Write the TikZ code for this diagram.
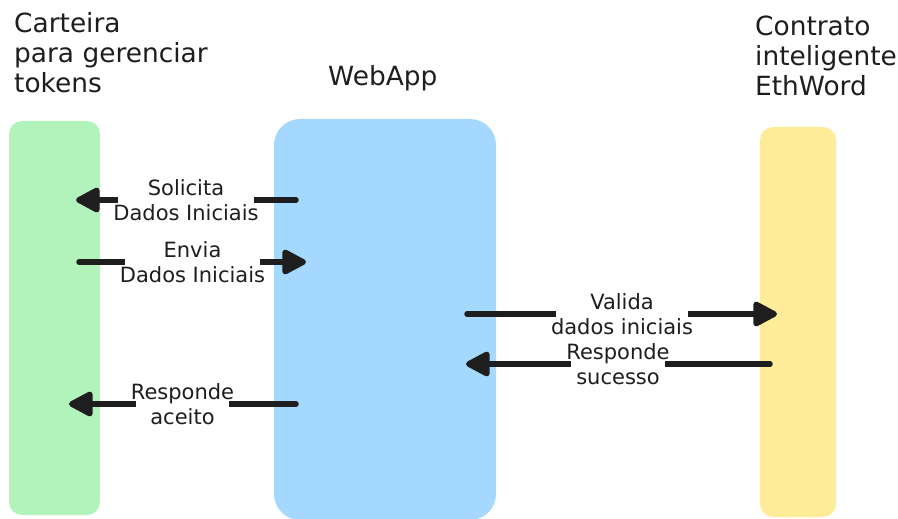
\documentclass[tikz,border=0pt]{standalone}
\usepackage{fontspec}
\setmainfont{DejaVu Sans}
\usetikzlibrary{arrows.meta}
\definecolor{ink}{HTML}{1E1E1E}
\definecolor{walletfill}{HTML}{B2F2BB}
\definecolor{appfill}{HTML}{A5D8FF}
\definecolor{contractfill}{HTML}{FFEC99}
\tikzset{
  lane/.style={draw=none, inner sep=0pt, outer sep=0pt},
  title/.style={text=ink, inner sep=0pt, align=left,
    font=\fontsize{26.4}{30}\selectfont},
  msg/.style={draw=ink, line width=5.5pt, line cap=round,
    -{Triangle[length=27pt,width=27pt,round]}},
  msglabel/.style={fill=white, text=ink, align=center,
    inner xsep=-5pt, inner ysep=1pt,
    font=\fontsize{21}{25}\selectfont}
}
\begin{document}
\begin{tikzpicture}[x=1pt,y=-1pt]
  \useasboundingbox (0,0) rectangle (898,519);

  % swimlanes
  \node[lane, fill=walletfill, rounded corners=13pt,
        minimum width=91pt, minimum height=394pt] (wallet) at (54.5,318) {};
  \node[lane, fill=appfill, rounded corners=26pt,
        minimum width=222pt, minimum height=401pt] (webapp) at (385,319.5) {};
  \node[lane, fill=contractfill, rounded corners=13pt,
        minimum width=76pt, minimum height=390pt] (contract) at (798,322) {};

  % lane titles
  \node[title, anchor=north west] (walletT) at (14,12.3)
    {Carteira\\para gerenciar\\tokens};
  \node[title, anchor=base west] (webappT) at (328,85) {WebApp};
  \node[title, anchor=north west] (contractT) at (755,16.2)
    {Contrato\\inteligente\\EthWord};

  % message end points
  \coordinate (m1a) at (296,200);  \coordinate (m1b) at (76,200);
  \coordinate (m2a) at (79,262);   \coordinate (m2b) at (306,262);
  \coordinate (m3a) at (467,314);  \coordinate (m3b) at (777,314);
  \coordinate (m4a) at (770,364);  \coordinate (m4b) at (466,364);
  \coordinate (m5a) at (296,404);  \coordinate (m5b) at (69,404);

  % messages
  \draw[msg] (m1a) -- node[msglabel] (l1) {Solicita\\Dados Iniciais} (m1b);
  \draw[msg] (m2a) -- node[msglabel] (l2) {Envia\\Dados Iniciais} (m2b);
  \draw[msg] (m3a) -- node[msglabel] (l3) {Valida\\dados iniciais} (m3b);
  \draw[msg] (m4a) -- node[msglabel] (l4) {Responde\\sucesso} (m4b);
  \draw[msg] (m5a) -- node[msglabel] (l5) {Responde\\aceito} (m5b);
\end{tikzpicture}
\end{document}
